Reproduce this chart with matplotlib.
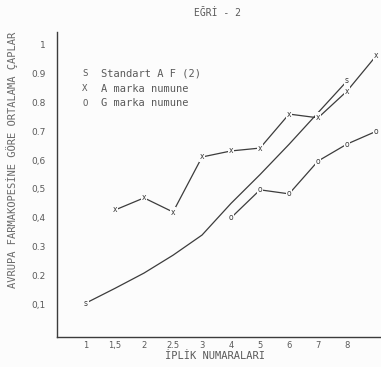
import numpy as np
import matplotlib
matplotlib.use("Agg")
from matplotlib import pyplot as plt

# x categories (iplik numaralari) and tick labels
x_labels = ['1', '1,5', '2', '2.5', '3', '4', '5', '6', '7', '8']
y_ticks = [0.1, 0.2, 0.3, 0.4, 0.5, 0.6, 0.7, 0.8, 0.9, 1.0]
y_labels = ['0,1', '0.2', '0.3', '0,4', '0,5', '0,6', '0.7', '0.8', '0.9', '1']

# series, indexed by category position (index 10 is past the last label)
s_idx = [0, 1, 2, 3, 4, 5, 6, 7, 8, 9]
s_val = [0.104, 0.155, 0.208, 0.27, 0.34, 0.45, 0.55, 0.655, 0.765, 0.875]
a_idx = [1, 2, 3, 4, 5, 6, 7, 8, 9, 10]
a_val = [0.427, 0.469, 0.42, 0.611, 0.632, 0.642, 0.76, 0.747, 0.84, 0.962]
g_idx = [5, 6, 7, 8, 9, 10]
g_val = [0.40, 0.497, 0.483, 0.597, 0.656, 0.70]

ink = '#3c3c3c'
txt = '#5a5a5a'
mono = 'DejaVu Sans Mono'

fig = plt.figure(figsize=(3.81, 3.67), dpi=100)
fig.patch.set_facecolor('#fcfcfc')
ax = fig.add_axes([57/381, 30/367, 1 - 57/381, (337 - 32)/367])
ax.set_facecolor('#fcfcfc')

ax.plot(s_idx, s_val, color=ink, lw=0.9)
ax.plot(a_idx, a_val, color=ink, lw=0.9)
ax.plot(g_idx, g_val, color=ink, lw=0.9)

# letter markers drawn over the lines, white box gives the gap
box = dict(fc='#fcfcfc', ec='none', pad=0.6)
for i in [0, -1]:
    ax.text(s_idx[i], s_val[i], 's', fontsize=5.5, color=ink, ha='center', va='center', bbox=box)
for xi, yi in zip(a_idx, a_val):
    ax.text(xi, yi, 'x', fontsize=5.5, color=ink, ha='center', va='center', bbox=box)
for xi, yi in zip(g_idx, g_val):
    ax.text(xi, yi, 'o', fontsize=5.5, color=ink, ha='center', va='center', bbox=box)

ax.set_xlim(-1.0, 10.17)
ax.set_ylim(-0.014, 1.045)
ax.set_xticks(range(len(x_labels)))
ax.set_xticklabels(x_labels)
ax.set_yticks(y_ticks)
ax.set_yticklabels(y_labels)
ax.tick_params(length=0, labelsize=6.5, labelcolor=txt)
ax.tick_params(axis='y', pad=8)
ax.tick_params(axis='x', pad=3, labelsize=6)
for side in ['top', 'right']:
    ax.spines[side].set_visible(False)
for side in ['left', 'bottom']:
    ax.spines[side].set_color(ink)
    ax.spines[side].set_linewidth(1.0)

# legend written as text like the original
leg = [('S', 'Standart A F (2)'), ('X', 'A marka numune'), ('O', 'G marka numune')]
for k, (m, lab) in enumerate(leg):
    yy = 1 - (74 + 14.5*k)/367
    fig.text(85/381, yy, m, fontsize=6.5, color=txt, ha='center', va='center', family=mono)
    fig.text(101/381, yy, lab, fontsize=7.5, color=txt, ha='left', va='center', family=mono)

fig.text(218/381, 1 - 13/367, 'EĞRİ - 2', fontsize=7, color=txt, ha='center', va='center', family=mono)
fig.text(215/381, 1 - 356/367, 'İPLİK NUMARALARI', fontsize=7.5, color=txt, ha='center', va='center',
         family=mono)
fig.text(12/381, 1 - 160/367, 'AVRUPA FARMAKOPESİNE GÖRE ORTALAMA ÇAPLAR', fontsize=7.5,
         color='#6a6a6a', ha='center', va='center', rotation=90, family=mono)

fig.savefig('out.png', dpi=100, facecolor=fig.get_facecolor())
